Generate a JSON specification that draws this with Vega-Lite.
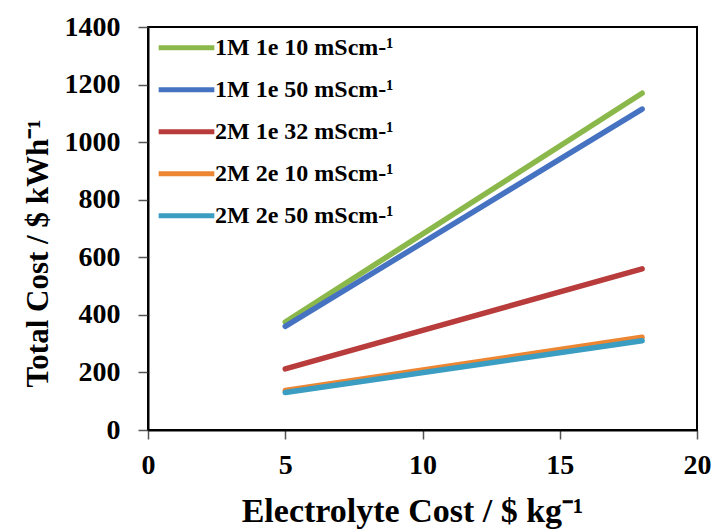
{
  "$schema": "https://vega.github.io/schema/vega-lite/v6.json",
  "autosize": {"type": "none"},
  "padding": {"left": 148, "top": 27, "right": 19, "bottom": 101},
  "width": 549,
  "height": 403,
  "background": "white",
  "config": {
    "font": "Liberation Serif",
    "view": {"stroke": "black", "strokeWidth": 2}
  },
  "data": {
    "values": [
      {"series": "1M 1e 10 mScm-¹", "x": 5, "y": 375},
      {"series": "1M 1e 10 mScm-¹", "x": 18, "y": 1170},
      {"series": "1M 1e 50 mScm-¹", "x": 5, "y": 360},
      {"series": "1M 1e 50 mScm-¹", "x": 18, "y": 1115},
      {"series": "2M 1e 32 mScm-¹", "x": 5, "y": 212},
      {"series": "2M 1e 32 mScm-¹", "x": 18, "y": 560},
      {"series": "2M 2e 10 mScm-¹", "x": 5, "y": 137},
      {"series": "2M 2e 10 mScm-¹", "x": 18, "y": 322},
      {"series": "2M 2e 50 mScm-¹", "x": 5, "y": 130},
      {"series": "2M 2e 50 mScm-¹", "x": 18, "y": 310}
    ]
  },
  "mark": {"type": "line", "strokeWidth": 5.5, "strokeCap": "round"},
  "encoding": {
    "x": {
      "field": "x", "type": "quantitative",
      "scale": {"domain": [0, 20], "nice": false},
      "axis": {
        "values": [0, 5, 10, 15, 20], "grid": false, "format": "d", "labelFlush": false,
        "title": "Electrolyte Cost / $ kg⁻¹",
        "titleFontSize": 34, "titleFontWeight": "bold", "titleColor": "black",
        "titleX": 264, "titleY": 91, "titleBaseline": "alphabetic", "titleAlign": "center",
        "labelFontSize": 28, "labelFontWeight": "bold", "labelColor": "black", "labelPadding": 12,
        "domainColor": "black", "domainWidth": 2, "tickColor": "#555", "tickSize": 9, "tickWidth": 1.5
      }
    },
    "y": {
      "field": "y", "type": "quantitative",
      "scale": {"domain": [0, 1400], "nice": false},
      "axis": {
        "values": [0, 200, 400, 600, 800, 1000, 1200, 1400], "grid": false, "format": "d", "labelFlush": false,
        "title": "Total Cost / $ kWh⁻¹",
        "titleFontSize": 31, "titleFontWeight": "bold", "titleColor": "black",
        "titleX": -110, "titleY": 226, "titleBaseline": "middle", "titleAlign": "center", "titleAngle": -90,
        "labelFontSize": 28, "labelFontWeight": "bold", "labelColor": "black", "labelPadding": 18,
        "domainColor": "black", "domainWidth": 2, "tickColor": "#555", "tickSize": 10, "tickWidth": 1.5
      }
    },
    "color": {
      "field": "series", "type": "nominal",
      "scale": {
        "domain": ["1M 1e 10 mScm-¹", "1M 1e 50 mScm-¹", "2M 1e 32 mScm-¹", "2M 2e 10 mScm-¹", "2M 2e 50 mScm-¹"],
        "range": ["#8BB84A", "#4672C2", "#B93C3C", "#EC8632", "#3A9DC1"]
      },
      "legend": {
        "title": null,
        "orient": "none", "legendX": 8, "legendY": 0,
        "symbolType": "stroke", "symbolSize": 3100, "symbolStrokeWidth": 5,
        "clipHeight": 41.5, "rowPadding": 0,
        "labelFontSize": 24, "labelFontWeight": "bold", "labelColor": "black", "labelOffset": -2,
        "labelLimit": 300
      }
    }
  }
}
